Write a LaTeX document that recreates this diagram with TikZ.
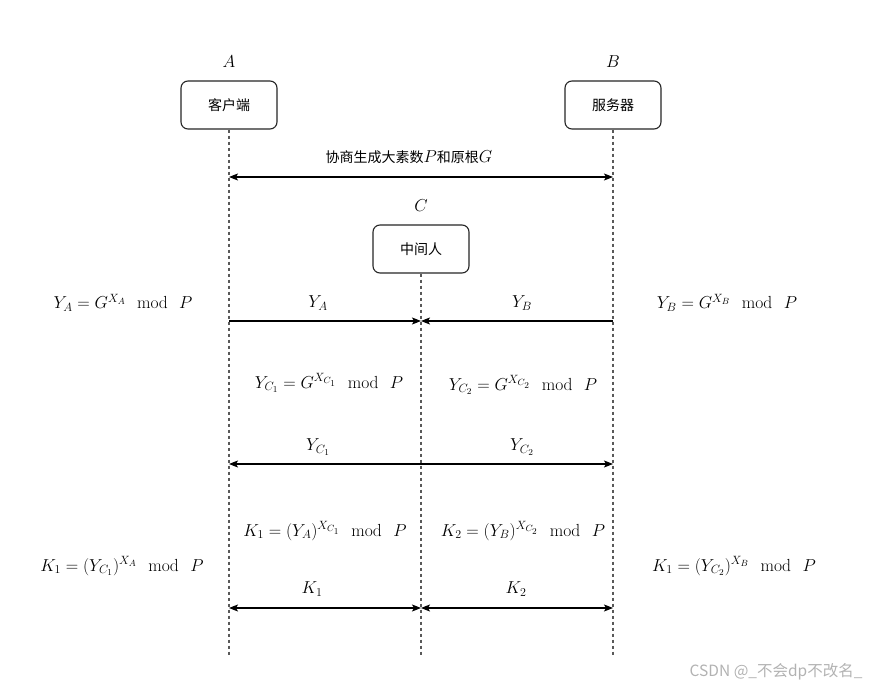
\documentclass[tikz,border=0pt]{standalone}
\usepackage{amsmath}
\usepackage{fontspec}
\newfontfamily\cjk{Noto Sans CJK SC}
\usetikzlibrary{arrows.meta,positioning,calc}
\newcommand{\modP}{\mkern12mu\mathrm{mod}\mkern12mu P}

\begin{document}
\begin{tikzpicture}[x=1pt, y=-1pt, >={Stealth[length=9pt, width=7pt, inset=2pt]},
    actor/.style={draw=black!85, line width=1.1pt, rounded corners=7pt, fill=white,
        minimum width=96pt, minimum height=48pt, font=\cjk\fontsize{14}{16}\selectfont},
    life/.style={draw=black!65, line width=1.1pt, dash pattern=on 3pt off 3pt},
    msg/.style={line width=1.1pt},
    eq/.style={font=\fontsize{17.5}{20}\selectfont}]
    \useasboundingbox (0,0) rectangle (871,687);

    % --- 参与者 A, B, C ---
    \node[actor] (a) at (229,105) {客户端};
    \node[actor] (b) at (613,105) {服务器};
    \node[actor] (c) at (421,249) {中间人};
    \node[eq] (la) at (229,62) {$A$};
    \node[eq] (lb) at (613,62) {$B$};
    \node[eq] (lc) at (421,206) {$C$};

    % --- 生命线 (虚线) 与消息端点 ---
    \coordinate (aend) at (229,657);
    \coordinate (bend) at (613,657);
    \coordinate (cend) at (421,657);
    \draw[life] (a.south) -- (aend);
    \draw[life] (b.south) -- (bend);
    \draw[life] (c.south) -- (cend);
    \foreach \y/\n in {177/p, 321/y, 464/yc, 608/k} {
        \coordinate (a\n) at (229,\y);
        \coordinate (b\n) at (613,\y);
        \coordinate (c\n) at (421,\y);
    }

    % --- 协商 P 和 G ---
    \draw[msg, <->] (ap) -- (bp);
    \node[font=\cjk\fontsize{14}{16}\selectfont] (pg) at (409,157) {协商生成大素数\fontsize{17.5}{20}\selectfont$P$\cjk\fontsize{14}{16}\selectfont 和原根\fontsize{17.5}{20}\selectfont$G$};

    % --- 公钥交换 ---
    \node[eq] (ya) at (123,303) {$Y_A = G^{X_A}\modP$};
    \node[eq] (yb) at (727,303) {$Y_B = G^{X_B}\modP$};
    \draw[msg, ->] (ay) -- (cy);
    \draw[msg, ->] (by) -- (cy);
    \node[eq] (tya) at (318,303) {$Y_A$};
    \node[eq] (tyb) at (522,303) {$Y_B$};

    % --- 中间人伪造 ---
    \node[eq] (yc1) at (329,383) {$Y_{C_1} = G^{X_{C_1}}\modP$};
    \node[eq] (yc2) at (523,385) {$Y_{C_2} = G^{X_{C_2}}\modP$};
    \draw[msg, <->] (ayc) -- (byc);
    \node[eq] (tyc1) at (318,447) {$Y_{C_1}$};
    \node[eq] (tyc2) at (522,447) {$Y_{C_2}$};

    % --- 会话密钥 ---
    \node[eq] (kc1) at (325,531) {$K_1 = (Y_A)^{X_{C_1}}\modP$};
    \node[eq] (kc2) at (523,531) {$K_2 = (Y_B)^{X_{C_2}}\modP$};
    \node[eq] (ka) at (122,566) {$K_1 = (Y_{C_1})^{X_A}\modP$};
    \node[eq] (kb) at (734,566) {$K_1 = (Y_{C_2})^{X_B}\modP$};
    \draw[msg, <->] (ak) -- (ck);
    \draw[msg, <->] (ck) -- (bk);
    \node[eq] (tk1) at (312,589) {$K_1$};
    \node[eq] (tk2) at (516,589) {$K_2$};

    % --- 水印 ---
    \node[anchor=east, text=black!30, font=\cjk\fontsize{15.5}{18}\selectfont] (wm) at (866,672) {CSDN @\_不会dp不改名\_};
\end{tikzpicture}
\end{document}
